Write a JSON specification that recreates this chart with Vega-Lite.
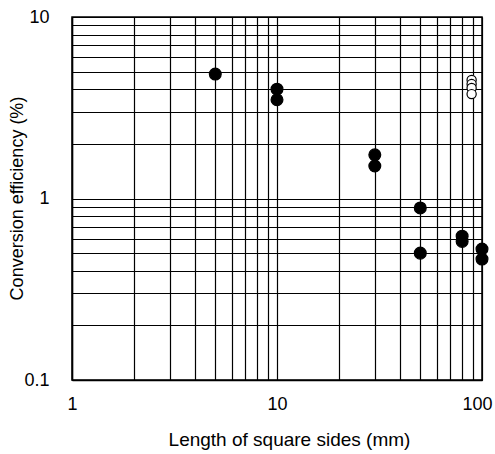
{
  "$schema": "https://vega.github.io/schema/vega-lite/v6.json",
  "width": 410,
  "height": 363,
  "autosize": {"type": "none"},
  "padding": {"left": 72, "top": 17, "right": 13, "bottom": 74},
  "background": "white",
  "config": {
    "view": {"stroke": "black", "strokeWidth": 1.5},
    "font": "Liberation Sans",
    "axis": {
      "grid": true,
      "gridColor": "black",
      "gridOpacity": 1,
      "gridWidth": 1.2,
      "ticks": false,
      "domainColor": "black",
      "domainWidth": 1.5,
      "labelColor": "black",
      "titleColor": "black",
      "labelFont": "Liberation Sans",
      "titleFont": "Liberation Sans",
      "labelFontSize": 18,
      "titleFontSize": 18,
      "titleFontWeight": "normal"
    }
  },
  "data": {
    "values": [
      {"side": 5, "eff": 4.85, "kind": "filled"},
      {"side": 10, "eff": 4.0, "kind": "filled"},
      {"side": 10, "eff": 3.5, "kind": "filled"},
      {"side": 30, "eff": 1.74, "kind": "filled"},
      {"side": 30, "eff": 1.51, "kind": "filled"},
      {"side": 50, "eff": 0.887, "kind": "filled"},
      {"side": 50, "eff": 0.5, "kind": "filled"},
      {"side": 80, "eff": 0.62, "kind": "filled"},
      {"side": 80, "eff": 0.58, "kind": "filled"},
      {"side": 100, "eff": 0.527, "kind": "filled"},
      {"side": 100, "eff": 0.464, "kind": "filled"},
      {"side": 89, "eff": 4.5, "kind": "open"},
      {"side": 89, "eff": 4.27, "kind": "open"},
      {"side": 89, "eff": 4.06, "kind": "open"},
      {"side": 89, "eff": 3.76, "kind": "open"}
    ]
  },
  "mark": {"type": "point", "filled": true, "stroke": "black", "strokeWidth": 1.2, "opacity": 1},
  "encoding": {
    "x": {
      "field": "side",
      "type": "quantitative",
      "scale": {"type": "log", "domain": [1, 100], "nice": false},
      "axis": {
        "title": "Length of square sides (mm)",
        "values": [1, 2, 3, 4, 5, 6, 7, 8, 9, 10, 20, 30, 40, 50, 60, 70, 80, 90, 100],
        "format": "~g",
        "labelExpr": "datum.value == 1 || datum.value == 10 || datum.value == 100 ? datum.label : ''",
        "labelAlign": "center",
        "labelOffset": {"expr": "datum.value == 100 ? -5 : 0"},
        "labelPadding": 15,
        "labelFlush": false,
        "labelOverlap": false,
        "labelBound": false,
        "titleFontSize": 19,
        "titleAlign": "center",
        "titleBaseline": "alphabetic",
        "titleX": 217,
        "titleY": 65
      }
    },
    "y": {
      "field": "eff",
      "type": "quantitative",
      "scale": {"type": "log", "domain": [0.1, 10], "nice": false},
      "axis": {
        "title": "Conversion efficiency (%)",
        "values": [0.1, 0.2, 0.3, 0.4, 0.5, 0.6, 0.7, 0.8, 0.9, 1, 2, 3, 4, 5, 6, 7, 8, 9, 10],
        "format": "~g",
        "labelExpr": "datum.value == 0.1 || datum.value == 1 || datum.value == 10 ? datum.label : ''",
        "labelPadding": 23,
        "labelFlush": false,
        "labelOverlap": false,
        "titleAlign": "center",
        "titleBaseline": "middle",
        "titleX": -55,
        "titleY": 181
      }
    },
    "fill": {
      "field": "kind",
      "type": "nominal",
      "scale": {"domain": ["filled", "open"], "range": ["black", "white"]},
      "legend": null
    },
    "size": {
      "field": "kind",
      "type": "nominal",
      "scale": {"domain": ["filled", "open"], "range": [140, 85]},
      "legend": null
    }
  }
}
